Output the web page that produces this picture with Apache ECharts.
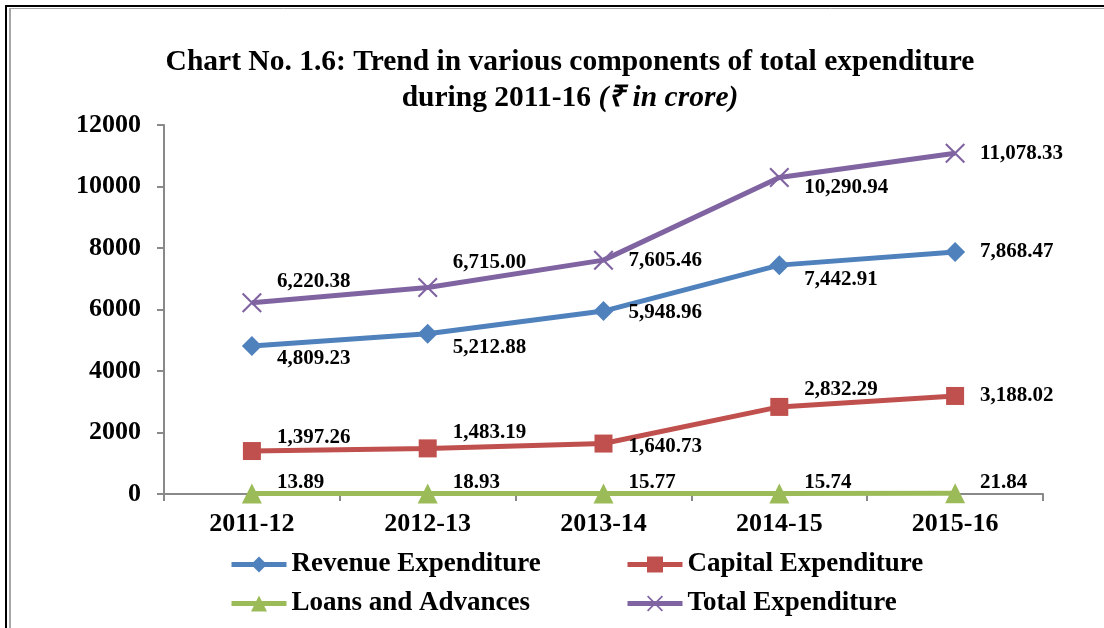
<!DOCTYPE html>
<html>
<head>
<meta charset="utf-8">
<script src="https://cdn.jsdelivr.net/npm/echarts@6/dist/echarts.min.js"></script>
<style>
    html, body { margin: 0; padding: 0; background: #fff; }
    #chart { width: 1104px; height: 628px; }
</style>
</head>
<body>
<div id="chart"></div>
<script>
    var years = ['2011-12', '2012-13', '2013-14', '2014-15', '2015-16'];
    var revenue = [4809.23, 5212.88, 5948.96, 7442.91, 7868.47];
    var capital = [1397.26, 1483.19, 1640.73, 2832.29, 3188.02];
    var loans = [13.89, 18.93, 15.77, 15.74, 21.84];
    var total = [6220.38, 6715.00, 7605.46, 10290.94, 11078.33];
    var yTicks = [0, 2000, 4000, 6000, 8000, 10000, 12000];

    // vertical shift of each value label (px)
    var revenueShift = [12, 14, 2, 14, 0],
        capitalShift = [-13, -16, 3, -17, 0],
        loansShift = [-11, -11, -11, -11, -11],
        totalShift = [-21, -25, 0, 10, 0];

    var font = '"Liberation Serif", "Times New Roman", serif';
    var crossPath = 'path://M0,1.5 L1.5,0 L20,18.5 L18.5,20 Z M18.5,0 L20,1.5 L1.5,20 L0,18.5 Z';

    function fmt(v) {
        var parts = v.toFixed(2).split('.');
        return parts[0].replace(/\B(?=(\d{3})+(?!\d))/g, ',') + '.' + parts[1];
    }

    function makeSeries(name, values, shift, color, symbol, size) {
        return {
            name: name,
            type: 'line',
            data: values.map(function (v, i) {
                return { value: v, label: { offset: [0, shift[i]] } };
            }),
            symbol: symbol,
            symbolSize: size,
            lineStyle: { color: color, width: 5 },
            itemStyle: { color: color, borderWidth: 0 },
            label: {
                show: true,
                position: 'right',
                distance: 25 - size / 2,
                formatter: function (p) { return fmt(p.value); },
                color: '#000',
                fontFamily: font,
                fontWeight: 'bold',
                fontSize: 21
            },
            emphasis: { disabled: true },
            animation: false
        };
    }

    var chart = echarts.init(document.getElementById('chart'));
    var legendText = { color: '#000', fontFamily: font, fontWeight: 'bold', fontSize: 27 };

    function legendBox(names, left) {
        return {
            data: names,
            orient: 'vertical',
            left: left,
            top: 551,
            padding: 0,
            itemWidth: 55,
            itemHeight: 20,
            itemGap: 12,
            lineStyle: { width: 5 },
            textStyle: legendText
        };
    }

    chart.setOption({
        backgroundColor: '#fff',
        title: {
            text: 'Chart No. 1.6: Trend in various components of total expenditure\n{b|during 2011-16 }{i|(₹ in crore)}',
            left: 570,
            textAlign: 'center',
            top: 44,
            padding: 0,
            textStyle: {
                color: '#000',
                fontFamily: font,
                fontWeight: 'bold',
                fontSize: 29.5,
                lineHeight: 36,
                rich: {
                    b: { fontFamily: font, fontWeight: 'bold', fontSize: 29.5, lineHeight: 36, color: '#000' },
                    i: { fontFamily: font, fontWeight: 'bold', fontStyle: 'italic', fontSize: 29.5, lineHeight: 36, color: '#000' }
                }
            }
        },
        legend: [
            legendBox(['Revenue Expenditure', 'Loans and Advances'], 229),
            legendBox(['Capital Expenditure', 'Total Expenditure'], 625)
        ],
        grid: { left: 164, right: 61, top: 125, bottom: 134 },
        xAxis: {
            type: 'category',
            data: years,
            boundaryGap: true,
            axisLine: { lineStyle: { color: '#898989', width: 2 } },
            axisTick: { show: true, length: 7, lineStyle: { color: '#898989', width: 2 } },
            axisLabel: { color: '#000', fontFamily: font, fontWeight: 'bold', fontSize: 26, margin: 17 }
        },
        yAxis: {
            type: 'value',
            min: yTicks[0],
            max: yTicks[yTicks.length - 1],
            interval: yTicks[1] - yTicks[0],
            axisLine: { show: true, lineStyle: { color: '#898989', width: 2 } },
            axisTick: { show: true, length: 7, lineStyle: { color: '#898989', width: 2 } },
            splitLine: { show: false },
            axisLabel: {
                color: '#000', fontFamily: font, fontWeight: 'bold', fontSize: 26, margin: 23,
                formatter: function (v) { return String(v); }
            }
        },
        graphic: [
            { type: 'line', shape: { x1: 6, y1: 5, x2: 6, y2: 628 }, style: { stroke: '#000', lineWidth: 2 } },
            { type: 'line', shape: { x1: 5, y1: 6, x2: 1104, y2: 6 }, style: { stroke: '#000', lineWidth: 2 } },
            { type: 'line', shape: { x1: 10, y1: 8, x2: 10, y2: 628 }, style: { stroke: '#a6a6a6', lineWidth: 2 } },
            { type: 'line', shape: { x1: 10, y1: 8.5, x2: 1104, y2: 8.5 }, style: { stroke: '#a6a6a6', lineWidth: 1 } }
        ],
        series: [
            makeSeries('Revenue Expenditure', revenue, revenueShift, '#4F81BD', 'diamond', 20),
            makeSeries('Capital Expenditure', capital, capitalShift, '#C0504D', 'rect', 18),
            makeSeries('Loans and Advances', loans, loansShift, '#9BBB59', 'triangle', 20),
            makeSeries('Total Expenditure', total, totalShift, '#8064A2', crossPath, 20)
        ]
    });
</script>
</body>
</html>
